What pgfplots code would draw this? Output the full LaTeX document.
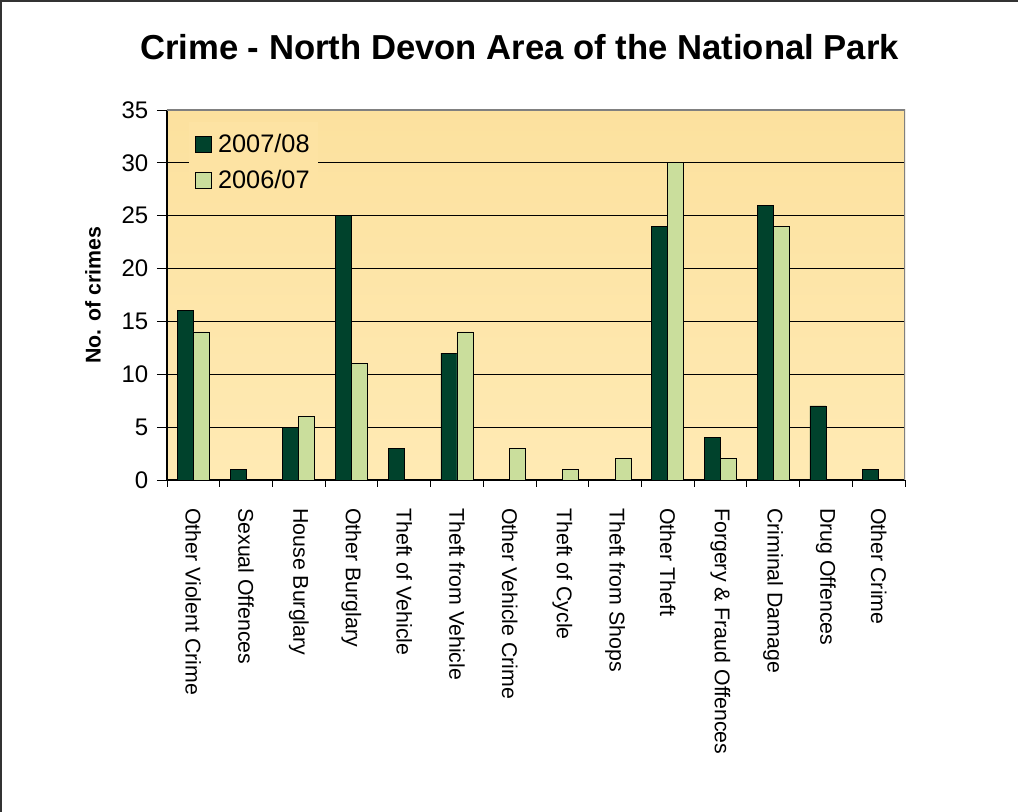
\documentclass[border=0pt]{standalone}
\usepackage{fontspec}
\setmainfont{Liberation Sans}
\usepackage{pgfplots}
\pgfplotsset{compat=1.18}
\definecolor{darkbar}{RGB}{0,66,44}
\definecolor{lightbar}{RGB}{202,222,156}
\definecolor{bgtop}{RGB}{252,225,158}
\definecolor{bgbot}{RGB}{255,234,180}
\definecolor{legbg}{RGB}{253,227,163}
\begin{document}
\begin{tikzpicture}
\begin{axis}[
  at={(0,0)}, anchor=south west,
  scale only axis,
  width=553.5pt, height=277.5pt,
  ybar=0pt, bar width=12pt,
  xmin=-0.5, xmax=13.5,
  ymin=0, ymax=35,
  ytick={0,5,...,35},
  xtick={0,...,13},
  minor xtick={-0.5,0.5,...,13.5},
  xticklabels={Other Violent Crime, Sexual Offences, House Burglary, Other Burglary, Theft of Vehicle, Theft from Vehicle, Other Vehicle Crime, Theft of Cycle, Theft from Shops, Other Theft, Forgery \& Fraud Offences, Criminal Damage, Drug Offences, Other Crime},
  xticklabel style={rotate=-90, anchor=west, inner sep=0pt, font=\fontsize{16}{19}\selectfont},
  xticklabel shift=13.5pt,
  yticklabel style={font=\fontsize{18}{21}\selectfont, xshift=-3pt},
  /pgf/number format/assume math mode=true,
  tick align=outside,
  major tick length=7.5pt, minor tick length=5.25pt,
  major x tick style={draw=none},
  minor x tick style={black, line width=0.6pt},
  major y tick style={black, line width=0.6pt},
  axis x line*=bottom, axis y line*=left,
  axis line style={black, line width=0.8pt, -},
  ymajorgrids, grid style={black, line width=0.6pt},
  axis background/.style={top color=bgtop, bottom color=bgbot},
  title={\bfseries Crime - North Devon Area of the National Park},
  title style={at={(axis description cs:0.4777,1)}, anchor=base, yshift=31.5pt, font=\fontsize{26}{30}\selectfont},
  ylabel={No. of crimes},
  ylabel style={at={(axis description cs:-0.1003,0.5)}, anchor=center, rotate=0, font=\bfseries\fontsize{16}{19}\selectfont},
  legend style={at={(axis description cs:0.0298,0.9676)}, anchor=north west, draw=none, fill=legbg,
    font=\fontsize{19}{22}\selectfont, row sep=8pt, inner xsep=4pt, inner ysep=7pt},
  legend cell align=left,
  legend image code/.code={\draw[#1, draw=black, line width=0.6pt] (0pt,-6pt) rectangle (12pt,6pt); \path (15pt,0pt);},
]
\addplot[fill=darkbar, draw=black, line width=0.6pt] coordinates {
(0,16) (1,1) (2,5) (3,25) (4,3) (5,12) (9,24) (10,4) (11,26) (12,7) (13,1)};
\addplot[fill=lightbar, draw=black, line width=0.6pt] coordinates {
(0,14) (2,6) (3,11) (5,14) (6,3) (7,1) (8,2) (9,30) (10,2) (11,24)};
\legend{2007/08, 2006/07}
\draw[gray, line width=0.8pt] (rel axis cs:0,1) -- (rel axis cs:1,1) -- (rel axis cs:1,0);
\end{axis}
\draw[black!80, line width=1.1pt] (-124.5pt,-249pt) -- (-124.5pt,359.25pt) -- (638.25pt,359.25pt);
\pgfresetboundingbox
\path (-125.25pt,-249pt) rectangle (638.25pt,360pt);
\end{tikzpicture}
\end{document}
